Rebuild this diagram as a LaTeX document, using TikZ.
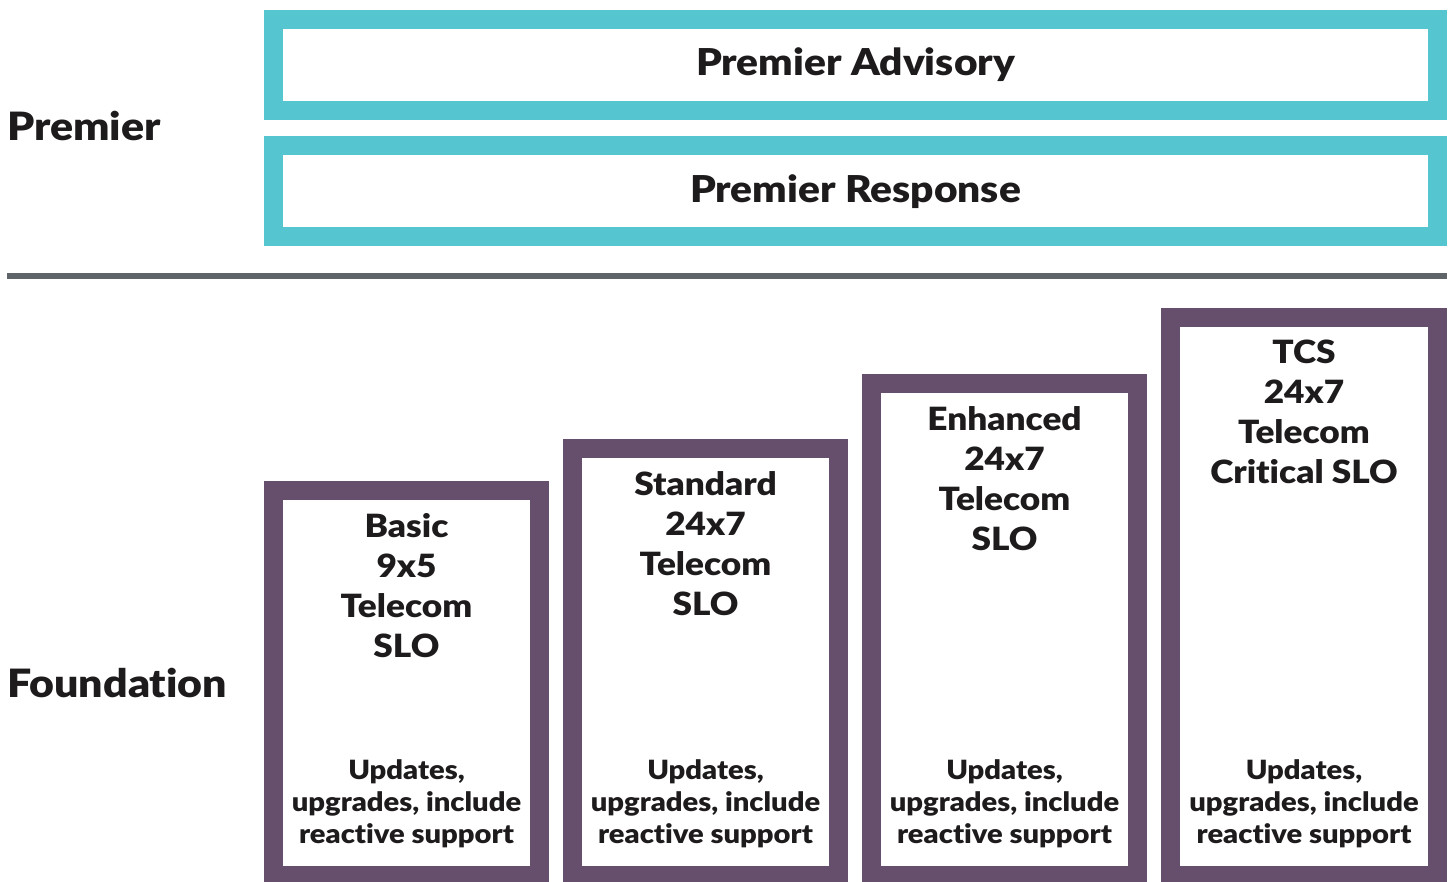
\documentclass[tikz,border=0pt]{standalone}
\usepackage{fontspec}
\setmainfont{Lato}[BoldFont={Lato Black},BoldFeatures={FakeStretch=1.1},Ligatures=NoCommon]
\definecolor{tealc}{HTML}{55C5CF}
\definecolor{purplec}{HTML}{664F6D}
\definecolor{grayc}{HTML}{5F6468}
\definecolor{textc}{HTML}{1E1B1C}
\begin{document}
\begin{tikzpicture}[x=1pt,y=-1pt,
  tealbox/.style={draw=tealc,line width=19pt,fill=white,minimum width=1164pt,minimum height=91pt,inner sep=0pt,
    font=\fontsize{37}{40}\bfseries\selectfont,text=textc},
  slobox/.style={draw=purplec,line width=19pt,fill=white,minimum width=266pt,inner sep=0pt},
  titletext/.style={anchor=north,align=center,inner sep=0pt,text=textc,font=\fontsize{32}{40}\bfseries\selectfont},
  desctext/.style={anchor=north,align=center,inner sep=0pt,text=textc,font=\fontsize{26.5}{32}\bfseries\selectfont},
  sidelabel/.style={anchor=base west,inner sep=0pt,text=textc,font=\fontsize{39}{44}\bfseries\selectfont}]
\useasboundingbox (0,0) rectangle (1453,882);
\clip (0,0) rectangle (1453,882);
\fill[white] (0,0) rectangle (1453,882);
% Premier tier
\node[tealbox] (adv) at (855.5,65) {Premier Advisory};
\node[tealbox] (resp) at (855.5,191.5) {Premier Response};
\node[sidelabel] (premier) at (7,141) {Premier};
% separator
\coordinate (sepL) at (7,276);
\coordinate (sepR) at (1447,276);
\draw[grayc,line width=6pt] (sepL) -- (sepR);
% Foundation tier
\node[sidelabel] (found) at (7,697) {Foundation};
\node[slobox,minimum height=385pt] (b1) at (406.5,683) {};
\node[slobox,minimum height=427pt] (b2) at (705.5,662) {};
\node[slobox,minimum height=492pt] (b3) at (1004.5,629.5) {};
\node[slobox,minimum width=267pt,minimum height=558pt] (b4) at (1304,596.5) {};
\node[titletext] (t1) at (406.5,513) {Basic\\9x5\\Telecom\\SLO};
\node[titletext] (t2) at (705.5,471) {Standard\\24x7\\Telecom\\SLO};
\node[titletext] (t3) at (1004.5,406) {Enhanced\\24x7\\Telecom\\SLO};
\node[titletext] (t4) at (1304,340) {TCS\\24x7\\Telecom\\Critical SLO};
\foreach \n/\x in {1/406.5,2/705.5,3/1004.5,4/1304}{
  \node[desctext] (d\n) at (\x,759) {Updates,\\upgrades, include\\reactive support};
}
\end{tikzpicture}
\end{document}
